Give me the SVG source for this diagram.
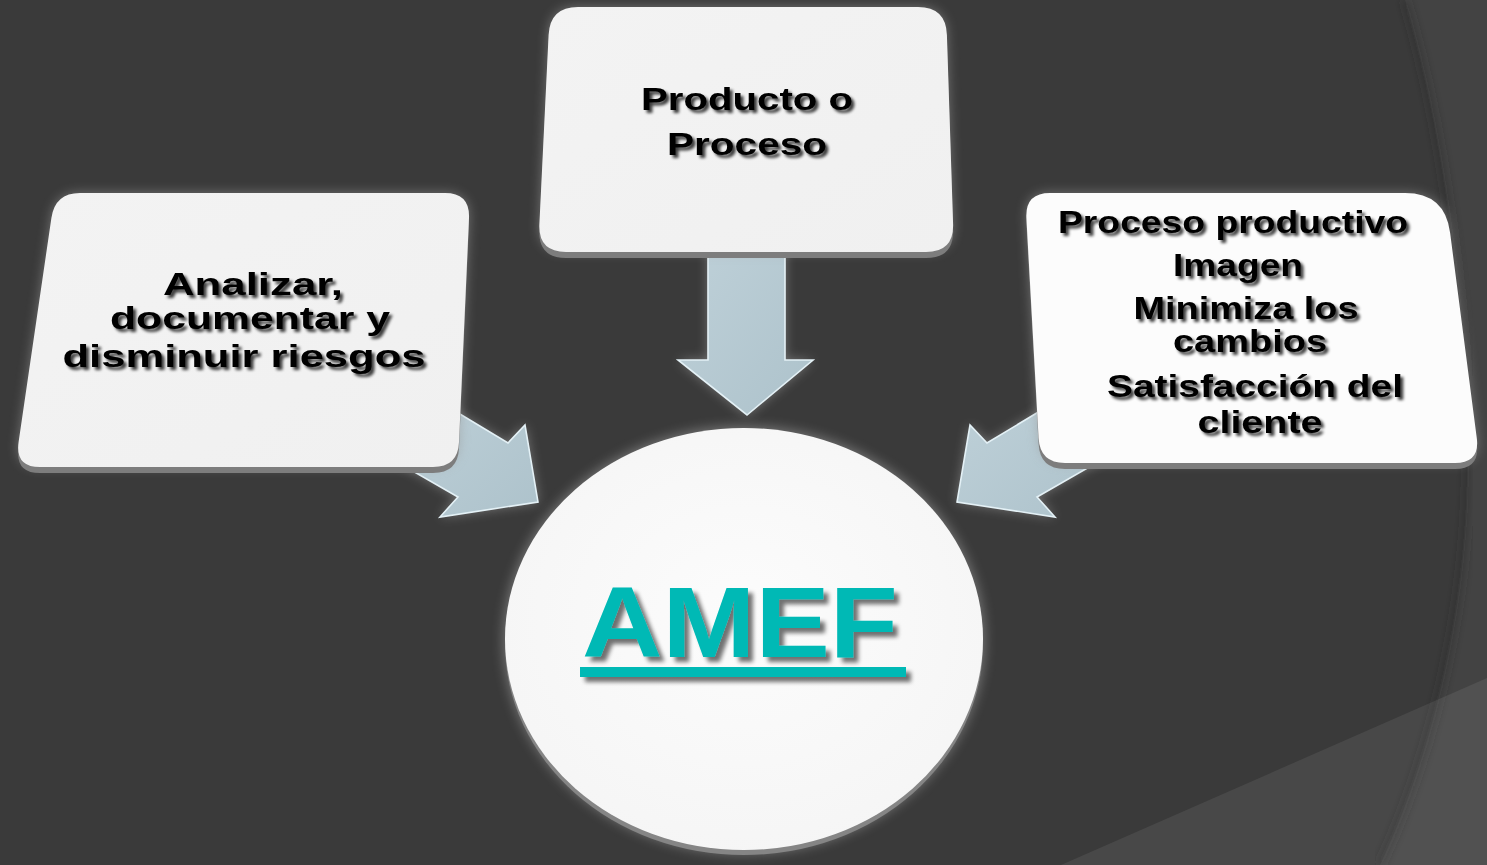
<svg xmlns="http://www.w3.org/2000/svg" width="1487" height="865" viewBox="0 0 1487 865">
<style>
.t{font-family:"Liberation Sans",Arial,sans-serif;font-weight:bold;font-size:32px;fill:#000;text-anchor:middle;filter:url(#tsh)}
.amef{font-family:"Liberation Sans",Arial,sans-serif;font-weight:bold;font-size:100px;fill:#00b9b5;text-anchor:middle}
.rim{fill:#7d7d7d}
.arrow{fill:url(#ag);stroke:#e4f1f6;stroke-width:1.6;stroke-linejoin:miter}
</style>
<defs>
<filter id="tsh" x="-10%" y="-30%" width="120%" height="160%">
<feGaussianBlur in="SourceAlpha" stdDeviation="1.6"/>
<feOffset dx="2.5" dy="2.5" result="b"/>
<feComponentTransfer in="b" result="s"><feFuncA type="linear" slope="0.75"/></feComponentTransfer>
<feMerge><feMergeNode in="s"/><feMergeNode in="SourceGraphic"/></feMerge>
</filter>
<filter id="ash" x="-10%" y="-30%" width="120%" height="160%">
<feGaussianBlur in="SourceAlpha" stdDeviation="2"/>
<feOffset dx="5" dy="5" result="b"/>
<feComponentTransfer in="b" result="s"><feFuncA type="linear" slope="0.55"/></feComponentTransfer>
<feMerge><feMergeNode in="s"/><feMergeNode in="SourceGraphic"/></feMerge>
</filter>
<filter id="glow" x="-20%" y="-20%" width="140%" height="140%">
<feGaussianBlur stdDeviation="6"/>
</filter>
<filter id="soft" x="-5%" y="-5%" width="110%" height="110%">
<feGaussianBlur stdDeviation="4"/>
</filter>
<linearGradient id="ag" x1="0" y1="0" x2="1" y2="1">
<stop offset="0" stop-color="#bfd1d9"/>
<stop offset="1" stop-color="#adc2cb"/>
</linearGradient>
<linearGradient id="bg1" x1="0" y1="0" x2="1" y2="1">
<stop offset="0" stop-color="#f3f3f3"/>
<stop offset="1" stop-color="#f0f0f0"/>
</linearGradient>
<radialGradient id="cg" cx="0.5" cy="0.45" r="0.6">
<stop offset="0" stop-color="#fcfcfc"/>
<stop offset="1" stop-color="#f5f5f5"/>
</radialGradient>
<path id="boxL" d="M80,193 L445,193 Q470,193 469,218 L459,442 Q458,467 433,467 L40,467 Q15,467 18.6,442 L51.4,218 Q55,193 80,193 Z"/>
<path id="boxM" d="M578,7 L918,7 Q946,7 946.9,35 L953.1,224 Q954,252 926,252 L566,252 Q538,252 539.4,224 L548.6,35 Q550,7 578,7 Z"/>
<path id="boxR" d="M1050,193 L1405,193 Q1445,193 1450.1,232.7 L1476.8,438.2 Q1480,463 1455,463 L1065,463 Q1040,463 1038.6,438 L1026.4,218 Q1025,193 1050,193 Z"/>
</defs>

<g id="background">
<rect x="0" y="0" width="1487" height="865" fill="#3a3a3a"/>
<path d="M1405,0 C1450,150 1475,380 1466,520 C1457,660 1420,780 1380,865 L1487,865 L1487,0 Z" fill="#434343"/>
<path d="M1405,0 C1450,150 1475,380 1466,520 C1457,660 1420,780 1380,865" fill="none" stroke="#2e2e2e" stroke-width="6" stroke-opacity="0.45" filter="url(#soft)"/>
<polygon points="1061,865 1487,678 1487,865" fill="#ffffff" fill-opacity="0.075"/>
</g>

<g id="connectors">
<g filter="url(#glow)" opacity="0.6" fill="#a0a0a0">
<polygon points="420,390 508,443 525,425 538,502 440,517 458,497 390,458"/>
<polygon points="1075,390 987,443 970,425 957,502 1055,517 1037,497 1105,458"/>
<polygon points="708,240 785,240 785,360 813,360 747,415 678,360 708,360"/>
</g>
<polygon class="arrow" points="420,390 508,443 525,425 538,502 440,517 458,497 390,458"/>
<polygon class="arrow" points="1075,390 987,443 970,425 957,502 1055,517 1037,497 1105,458"/>
<polygon class="arrow" points="708,240 785,240 785,360 813,360 747,415 678,360 708,360"/>
</g>

<g id="node-left">
<use href="#boxL" fill="#9a9a9a" opacity="0.6" filter="url(#glow)"/>
<use href="#boxL" class="rim" transform="translate(0,6)"/>
<use href="#boxL" fill="url(#bg1)"/>
<text class="t" x="253" y="295" textLength="180" lengthAdjust="spacingAndGlyphs">Analizar,</text>
<text class="t" x="250" y="329" textLength="280" lengthAdjust="spacingAndGlyphs">documentar y</text>
<text class="t" x="244" y="367" textLength="363" lengthAdjust="spacingAndGlyphs">disminuir riesgos</text>
</g>

<g id="node-top">
<use href="#boxM" fill="#9a9a9a" opacity="0.6" filter="url(#glow)"/>
<use href="#boxM" class="rim" transform="translate(0,6)"/>
<use href="#boxM" fill="url(#bg1)"/>
<text class="t" x="747" y="110" textLength="212" lengthAdjust="spacingAndGlyphs">Producto o</text>
<text class="t" x="747" y="155" textLength="160" lengthAdjust="spacingAndGlyphs">Proceso</text>
</g>

<g id="node-right">
<use href="#boxR" fill="#9a9a9a" opacity="0.6" filter="url(#glow)"/>
<use href="#boxR" class="rim" transform="translate(0,6)"/>
<use href="#boxR" fill="#fcfcfc"/>
<text class="t" x="1233" y="233" textLength="350" lengthAdjust="spacingAndGlyphs">Proceso productivo</text>
<text class="t" x="1238" y="276" textLength="130" lengthAdjust="spacingAndGlyphs">Imagen</text>
<text class="t" x="1246" y="319" textLength="225" lengthAdjust="spacingAndGlyphs">Minimiza los</text>
<text class="t" x="1250" y="352" textLength="154" lengthAdjust="spacingAndGlyphs">cambios</text>
<text class="t" x="1255" y="397" textLength="296" lengthAdjust="spacingAndGlyphs">Satisfacción del</text>
<text class="t" x="1260" y="433" textLength="125" lengthAdjust="spacingAndGlyphs">cliente</text>
</g>

<g id="node-center">
<ellipse cx="744" cy="640" rx="241" ry="214" fill="#9a9a9a" opacity="0.6" filter="url(#glow)"/>
<ellipse cx="744" cy="644" rx="239" ry="211" fill="#858585"/>
<ellipse cx="744" cy="639" rx="239" ry="211" fill="url(#cg)"/>
<g filter="url(#ash)">
<text class="amef" x="740" y="657" textLength="316" lengthAdjust="spacingAndGlyphs">AMEF</text>
<rect x="580" y="667" width="326" height="10" fill="#00b9b5"/>
</g>
</g>
</svg>
